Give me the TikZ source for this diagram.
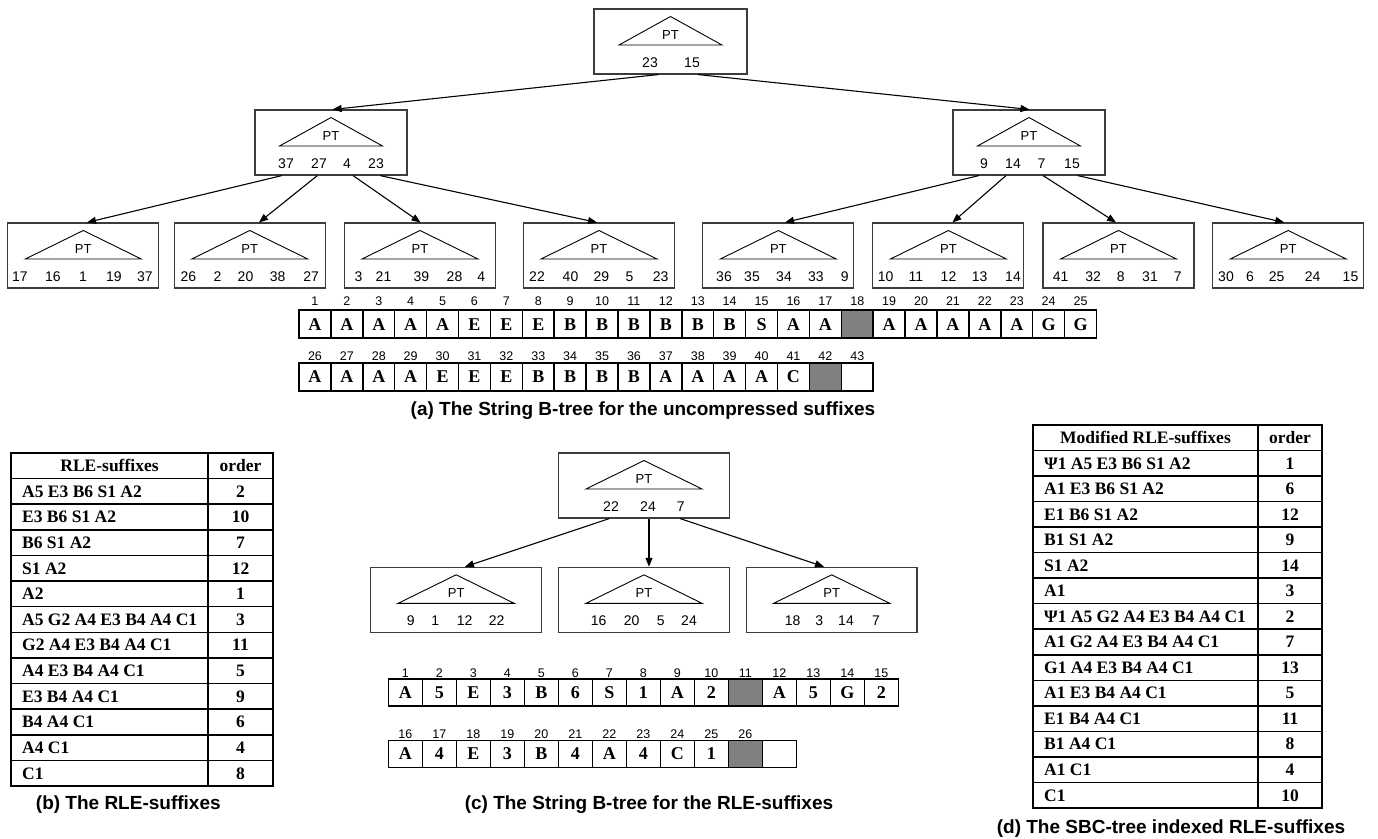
\documentclass[tikz,border=0pt]{standalone}
\usepackage{fontspec}
\setmainfont{Liberation Serif}
\setsansfont{Liberation Sans}
\usetikzlibrary{arrows.meta}
\definecolor{cellgray}{RGB}{128,128,128}
\definecolor{boxline}{RGB}{60,60,60}
\tikzset{
  tbox/.style={draw=boxline, line width=1.1pt, inner sep=0pt, minimum height=65pt},
  tri/.style={draw=black, line width=0.9pt},
  ptlab/.style={font=\sffamily\fontsize{13}{15}\selectfont, inner sep=0pt, text height=9.3pt, text depth=0pt},
  tnum/.style={font=\sffamily\fontsize{14}{16}\selectfont, inner sep=0pt, text height=10pt, text depth=0pt},
  arr/.style={draw=black, line width=1.1pt, -{Triangle[length=9pt,width=7pt]}},
  cellbox/.style={draw=black, line width=1.5pt, inner sep=0pt, text height=11.9pt, text depth=0pt,
     font=\rmfamily\bfseries\fontsize{18}{20}\selectfont},
  cw/.style={fill=white},
  cg/.style={fill=cellgray},
  idx/.style={font=\sffamily\fontsize{12.5}{14}\selectfont, inner sep=0pt, text height=9pt, text depth=0pt},
  capt/.style={font=\sffamily\bfseries\fontsize{19}{22}\selectfont, inner sep=0pt, text height=13.6pt, text depth=0pt},
  tabtext/.style={font=\rmfamily\bfseries\fontsize{17.5}{20}\selectfont, inner sep=0pt, text height=11.6pt, text depth=0pt},
  tabline/.style={draw=black, line width=1.5pt},
  tabframe/.style={draw=black, line width=2pt},
}
\newcommand{\blankcell}{}
% name, cx, top, width, triangle half width, list x/label
\newcommand{\mytreebox}[6]{%
  \node[tbox, minimum width=#4pt] (#1) at (#2, #3+32.5) {};
  \draw[tri] (#2, #3+7.5) -- (#2+#5, #3+36) -- (#2-#5, #3+36) -- cycle;
  \node[ptlab] (#1pt) at (#2, #3+25.5) {PT};
  \foreach \nx/\nt [count=\nk] in {#6} \node[tnum] (#1n\nk) at (\nx, #3+53.5) {\nt};
}
\begin{document}
\begin{tikzpicture}[x=1pt, y=-1pt]
\useasboundingbox (0,0) rectangle (1378,838);
\fill[white] (0,0) rectangle (1378,838);

% ---------- (a) String B-tree, uncompressed ----------
\mytreebox{ra}{670.5}{9}{153}{51.5}{650/23, 692/15}
\mytreebox{la}{331}{110}{152}{51.5}{286/37, 319/27, 347/4, 376/23}
\mytreebox{lb}{1029}{110}{152}{51.5}{984/9, 1013/14, 1041.5/7, 1072/15}
\mytreebox{ka}{83.3}{223}{151}{58}{20/17, 53/16, 83/1, 114/19, 145/37}
\mytreebox{kb}{249.75}{223}{151}{58}{188.4/26, 217.4/2, 245.5/20, 277.7/38, 311.2/27}
\mytreebox{kc}{420}{223}{151}{58}{358.5/3, 383.5/21, 421.4/39, 454.5/28, 481.3/4}
\mytreebox{kd}{599}{223}{151}{58}{537/22, 570.5/40, 601.3/29, 629.5/5, 660.7/23}
\mytreebox{ke}{778.3}{223}{151}{58}{724/36, 752/35, 784/34, 815.8/33, 844.7/9}
\mytreebox{kf}{948.4}{223}{151}{58}{885.7/10, 916/11, 948.5/12, 979.6/13, 1013/14}
\mytreebox{kg}{1118.5}{223}{151}{58}{1060.7/41, 1093.2/32, 1120.8/8, 1150/31, 1177.8/7}
\mytreebox{kh}{1288.25}{223}{151}{58}{1226/30, 1250/6, 1276.6/25, 1312.7/24, 1350.5/15}

\draw[arr] ([xshift=-12pt]ra.south) -- ([xshift=1.6pt]la.north);
\draw[arr] ([xshift=27.3pt]ra.south) -- ([xshift=0.5pt]lb.north);
\draw[arr] ([xshift=-49pt]la.south) -- ([xshift=3.7pt]ka.north);
\draw[arr] ([xshift=-13.6pt]la.south) -- ([xshift=9.2pt]kb.north);
\draw[arr] ([xshift=22pt]la.south) -- ([xshift=0.5pt]kc.north);
\draw[arr] ([xshift=49pt]la.south) -- ([xshift=-2pt]kd.north);
\draw[arr] ([xshift=-50pt]lb.south) -- ([xshift=6.7pt]ke.north);
\draw[arr] ([xshift=-23pt]lb.south) -- ([xshift=4pt]kf.north);
\draw[arr] ([xshift=14pt]lb.south) -- ([xshift=-2.5pt]kg.north);
\draw[arr] ([xshift=48.6pt]lb.south) -- ([xshift=-4pt]kh.north);

% string rows (a)
\foreach \t/\s [count=\i] in {A/cw,A/cw,A/cw,A/cw,A/cw,E/cw,E/cw,E/cw,B/cw,B/cw,B/cw,B/cw,B/cw,B/cw,S/cw,A/cw,A/cw,\blankcell/cg,A/cw,A/cw,A/cw,A/cw,A/cw,G/cw,G/cw}{
  \node[cellbox, \s, minimum width=31.9pt, minimum height=28pt] (sa\i) at (299+31.9*\i-15.95, 324.2) {\t};
  \node[idx] (sai\i) at (299+31.9*\i-15.95, 301) {\i};
}
\foreach \t/\s [count=\i] in {A/cw,A/cw,A/cw,A/cw,E/cw,E/cw,E/cw,B/cw,B/cw,B/cw,B/cw,A/cw,A/cw,A/cw,A/cw,C/cw,\blankcell/cg,\blankcell/cw}{
  \pgfmathtruncatemacro{\lab}{\i+25}
  \node[cellbox, \s, minimum width=31.9pt, minimum height=28pt] (sb\i) at (299+31.9*\i-15.95, 377) {\t};
  \node[idx] (sbi\i) at (299+31.9*\i-15.95, 355.5) {\lab};
}
\node[capt] (capa) at (643, 409) {(a) The String B-tree for the uncompressed suffixes};

% ---------- (b) table ----------
\draw[tabframe] (11,453) rectangle (273,786);
\foreach \k in {1,...,12} \draw[tabline] (11, 453+25.62*\k) -- (273, 453+25.62*\k);
\draw[tabline] (208,453) -- (208,786);
\node[tabtext] (bh1) at (109.5, 466) {RLE-suffixes};
\node[tabtext] (bh2) at (240.5, 466) {order};
\foreach \r/\o [count=\k] in {A5 E3 B6 S1 A2/2, E3 B6 S1 A2/10, B6 S1 A2/7, S1 A2/12, A2/1,
   A5 G2 A4 E3 B4 A4 C1/3, G2 A4 E3 B4 A4 C1/11, A4 E3 B4 A4 C1/5, E3 B4 A4 C1/9,
   B4 A4 C1/6, A4 C1/4, C1/8}{
  \node[tabtext, anchor=west] (br\k) at (22, 453+25.62*\k+12.81) {\r};
  \node[tabtext] (bo\k) at (240.5, 453+25.62*\k+12.81) {\o};
}
\node[capt] (capb) at (128.3, 803) {(b) The RLE-suffixes};

% ---------- (c) String B-tree, RLE ----------
\mytreebox{rc}{644}{453}{170.6}{58}{611/22, 648/24, 680.7/7}
\mytreebox{ca}{456.15}{567.3}{170.6}{58}{410.7/9, 435.3/1, 464.7/12, 496.7/22}
\mytreebox{cb}{644}{567.3}{170.6}{58}{598.7/16, 631.7/20, 660.7/5, 689/24}
\mytreebox{cc}{831.7}{567.3}{170.6}{58}{792.7/18, 819.3/3, 846/14, 876/7}
\draw[arr] ([xshift=-34.7pt]rc.south) -- ([xshift=8.8pt]ca.north);
\draw[arr] ([xshift=5pt]rc.south) -- ([xshift=5pt]cb.north);
\draw[arr] ([xshift=36pt]rc.south) -- ([xshift=-7.7pt]cc.north);

\foreach \t/\s [count=\i] in {A/cw,5/cw,E/cw,3/cw,B/cw,6/cw,S/cw,1/cw,A/cw,2/cw,\blankcell/cg,A/cw,5/cw,G/cw,2/cw}{
  \node[cellbox, \s, minimum width=34pt, minimum height=27pt] (sc\i) at (388.3+34*\i-17, 692.7) {\t};
  \node[idx] (sci\i) at (388.3+34*\i-17, 672.5) {\i};
}
\foreach \t/\s [count=\i] in {A/cw,4/cw,E/cw,3/cw,B/cw,4/cw,A/cw,4/cw,C/cw,1/cw,\blankcell/cg,\blankcell/cw}{
  \node[cellbox, \s, minimum width=34pt, minimum height=27pt] (sd\i) at (388.3+34*\i-17, 754) {\t};
}
\foreach \i in {1,...,11}{
  \pgfmathtruncatemacro{\lab}{\i+15}
  \node[idx] (sdi\i) at (388.3+34*\i-17, 733.8) {\lab};
}
\node[capt] (capc) at (649, 803) {(c) The String B-tree for the RLE-suffixes};

% ---------- (d) table ----------
\draw[tabframe] (1033,425) rectangle (1322,808);
\foreach \k in {1,...,14} \draw[tabline] (1033, 425+25.53*\k) -- (1322, 425+25.53*\k);
\draw[tabline] (1258,425) -- (1258,808);
\node[tabtext] (dh1) at (1145.5, 437.8) {Modified RLE-suffixes};
\node[tabtext] (dh2) at (1290, 437.8) {order};
\foreach \r/\o [count=\k] in {Ψ1 A5 E3 B6 S1 A2/1, A1 E3 B6 S1 A2/6, E1 B6 S1 A2/12, B1 S1 A2/9,
   S1 A2/14, A1/3, Ψ1 A5 G2 A4 E3 B4 A4 C1/2, A1 G2 A4 E3 B4 A4 C1/7, G1 A4 E3 B4 A4 C1/13,
   A1 E3 B4 A4 C1/5, E1 B4 A4 C1/11, B1 A4 C1/8, A1 C1/4, C1/10}{
  \node[tabtext, anchor=west] (dr\k) at (1044, 425+25.53*\k+12.77) {\r};
  \node[tabtext] (do\k) at (1290, 425+25.53*\k+12.77) {\o};
}
\node[capt] (capd) at (1171, 827) {(d) The SBC-tree indexed RLE-suffixes};
\end{tikzpicture}
\end{document}
